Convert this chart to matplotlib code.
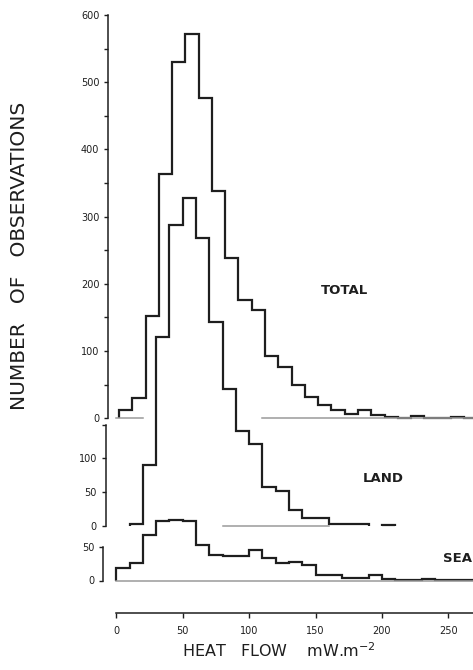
import numpy as np
import matplotlib.pyplot as plt

# heat flow classes are 10 mW/m2 wide; first class left edge for each series
bin_width = 10
total_start = 2
land_start = 10
sea_start = 0

total_counts = [13, 30, 152, 364, 530, 572, 476, 338, 238, 176,
                161, 92, 76, 50, 32, 20, 12, 7, 12, 5,
                2, 1, 3, 1, 1, 2, 1]
land_counts = [2, 91, 280, 447, 487, 428, 303, 203, 141, 122,
               58, 52, 23, 11, 11, 2, 2, 2, np.nan, 1]
sea_counts = [18, 26, 67, 88, 90, 89, 53, 38, 37, 37,
              45, 34, 26, 27, 23, 8, 8, 3.5, 3.5, 8,
              2, 1, 1, 2, 1, 1, 1]

x_ticks = [0, 50, 100, 150, 200, 250]
total_ticks = [0, 100, 200, 300, 400, 500, 600]
land_ticks = [0, 50, 100]
sea_ticks = [0, 50]

ink = "#1e1e1e"
grey = "#9a9a9a"
num_font = ["Liberation Sans Narrow", "DejaVu Sans"]

W, H = 473, 670
fig = plt.figure(figsize=(W / 100, H / 100), dpi=100)

# layout in pixels of the scanned figure
left_px, right_px, top_px, bot_px = 108.3, 473, 15, 613
x0_px, xs = 116.3, 1.328
ys = (418.3 - 15) / 600
rect = [left_px / W, 1 - bot_px / H, (right_px - left_px) / W, (bot_px - top_px) / H]
xlim = ((left_px - x0_px) / xs, (right_px - x0_px) / xs)


def panel(base_px):
    ax = fig.add_axes(rect)
    ax.patch.set_visible(False)
    ax.set_xlim(xlim)
    ax.set_ylim(-(bot_px - base_px) / ys, (base_px - top_px) / ys)
    for s in ["top", "right", "bottom"]:
        ax.spines[s].set_visible(False)
    ax.spines["left"].set_linewidth(1.1)
    ax.spines["left"].set_color(ink)
    ax.tick_params(axis="y", direction="out", length=3, width=1, pad=3.5,
                   labelsize=7, colors=ink)
    ax.tick_params(axis="x", bottom=False, labelbottom=False)
    return ax


def edges(start, counts):
    return start + bin_width * np.arange(len(counts) + 1)


# TOTAL
ax_t = panel(418.3)
ax_t.stairs(total_counts, edges(total_start, total_counts), baseline=0,
            color=ink, lw=1.6)
ax_t.plot([0, 20], [0, 0], color=grey, lw=1.1, zorder=1)
ax_t.plot([110, xlim[1]], [0, 0], color=grey, lw=1.1, zorder=1)
ax_t.spines["left"].set_bounds(0, 600)
ax_t.set_yticks(total_ticks)
ax_t.set_yticks(np.arange(50, 600, 100), minor=True)
ax_t.tick_params(axis="y", which="minor", direction="out", length=3, width=1,
                 colors=ink)

# x axis drawn on the total panel
ax_t.spines["bottom"].set_visible(True)
ax_t.spines["bottom"].set_linewidth(1.1)
ax_t.spines["bottom"].set_color(ink)
ax_t.spines["bottom"].set_bounds(0, xlim[1])
ax_t.set_xticks(x_ticks)
ax_t.tick_params(axis="x", bottom=True, labelbottom=True, direction="out",
                 length=3.5, width=1, pad=6, labelsize=7, colors=ink)

# LAND
ax_l = panel(525.7)
ax_l.stairs(land_counts, edges(land_start, land_counts), baseline=0,
            color=ink, lw=1.6)
ax_l.plot([80, 160], [0, 0], color=grey, lw=1.1, zorder=1)
ax_l.spines["left"].set_position(("outward", 1.7))
ax_l.spines["left"].set_bounds(0, 150)
ax_l.set_yticks(land_ticks)
ax_l.set_yticks([150], minor=True)
ax_l.tick_params(axis="y", which="minor", direction="out", length=3, width=1,
                 colors=ink)

# SEA
ax_s = panel(580.5)
ax_s.stairs(sea_counts, edges(sea_start, sea_counts), baseline=0,
            color=ink, lw=1.6)
ax_s.plot([0, xlim[1]], [0, 0], color=grey, lw=1.1, zorder=1)
ax_s.spines["left"].set_position(("outward", 3.6))
ax_s.spines["left"].set_bounds(0, 50)
ax_s.set_yticks(sea_ticks)

for ax in (ax_t, ax_l, ax_s):
    for lab in ax.get_xticklabels() + ax.get_yticklabels():
        lab.set_family(num_font)

# labels
fig.text(344 / W, 1 - 291 / H, "TOTAL", ha="center", va="center",
         fontsize=9.5, fontweight="bold", color=ink)
fig.text(383 / W, 1 - 479 / H, "LAND", ha="center", va="center",
         fontsize=9.5, fontweight="bold", color=ink)
fig.text(443 / W, 1 - 558 / H, "SEA", ha="left", va="center",
         fontsize=9.5, fontweight="bold", color=ink)

fig.text(20 / W, 1 - 256 / H, "NUMBER   OF   OBSERVATIONS", rotation=90,
         ha="center", va="center", fontsize=14.5, color=ink)
fig.text(279 / W, 1 - 651 / H, r"HEAT   FLOW    mW.m$^{-2}$", ha="center",
         va="center", fontsize=11.5, color=ink)

fig.savefig("out.png", dpi=100, facecolor="white")
